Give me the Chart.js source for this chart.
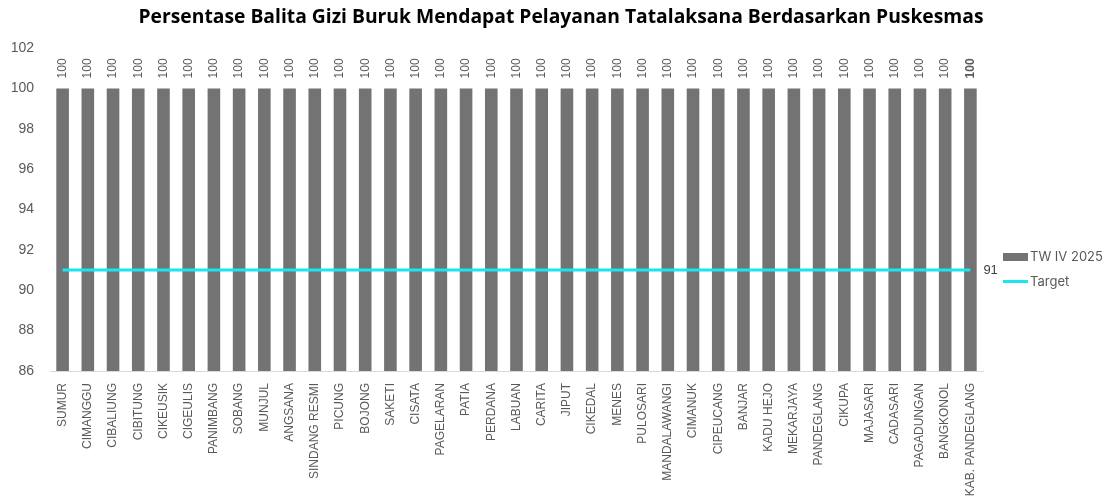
<!DOCTYPE html>
<html>
<head>
<meta charset="utf-8">
<script src="https://cdn.jsdelivr.net/npm/chart.js@4/dist/chart.umd.min.js"></script>
<style>
  html, body { margin: 0; padding: 0; background: #fff; }
  #wrap { width: 1117px; height: 499px; }
</style>
</head>
<body>
<div id="wrap"><canvas id="chart" width="1117" height="499"></canvas></div>
<script>
// data
const puskesmas = ['SUMUR', 'CIMANGGU', 'CIBALIUNG', 'CIBITUNG', 'CIKEUSIK', 'CIGEULIS', 'PANIMBANG',
    'SOBANG', 'MUNJUL', 'ANGSANA', 'SINDANG RESMI', 'PICUNG', 'BOJONG', 'SAKETI', 'CISATA',
    'PAGELARAN', 'PATIA', 'PERDANA', 'LABUAN', 'CARITA', 'JIPUT', 'CIKEDAL', 'MENES', 'PULOSARI',
    'MANDALAWANGI', 'CIMANUK', 'CIPEUCANG', 'BANJAR', 'KADU HEJO', 'MEKARJAYA', 'PANDEGLANG',
    'CIKUPA', 'MAJASARI', 'CADASARI', 'PAGADUNGAN', 'BANGKONOL', 'KAB. PANDEGLANG'];
const capaian = [100, 100, 100, 100, 100, 100, 100, 100, 100, 100, 100, 100, 100, 100, 100,
    100, 100, 100, 100, 100, 100, 100, 100, 100, 100, 100, 100, 100, 100, 100, 100,
    100, 100, 100, 100, 100, 100];
const targetValue = 91;
const target = puskesmas.map(() => targetValue);
const yTicks = [86, 88, 90, 92, 94, 96, 98, 100, 102];
const chartTitle = 'Persentase Balita Gizi Buruk Mendapat Pelayanan Tatalaksana Berdasarkan Puskesmas';

const barColor = '#737373';
const targetColor = '#19E6EE';
const textColor = '#595959';
const tickFont = "'Liberation Sans', Arial, sans-serif";

/*** title centred on the whole canvas ***/
const pageTitle = {
    id: 'pageTitle',
    afterDraw(chart) {
        const ctx = chart.ctx;
        ctx.save();
        ctx.font = "bold 19.3px 'Open Sans', sans-serif";
        ctx.fillStyle = '#000';
        ctx.textAlign = 'center';
        ctx.textBaseline = 'middle';
        ctx.fillText(chartTitle, 561, 18);
        ctx.restore();
    }
};

/*** value labels above bars + "91" at end of target line ***/
const valueLabels = {
    id: 'valueLabels',
    afterDatasetsDraw(chart) {
        const ctx = chart.ctx;
        const bars = chart.getDatasetMeta(0).data;
        ctx.save();
        ctx.fillStyle = textColor;
        ctx.textAlign = 'left';
        ctx.textBaseline = 'middle';
        bars.forEach((bar, i) => {
            const last = i === bars.length - 1;
            ctx.font = (last ? 'bold ' : '') + '12px ' + tickFont;
            ctx.save();
            ctx.translate(bar.x, bar.y - 10);
            ctx.rotate(-Math.PI / 2);
            ctx.fillText(String(capaian[i]), 0, 0);
            ctx.restore();
        });
        const pts = chart.getDatasetMeta(1).data;
        const end = pts[pts.length - 1];
        ctx.font = '13px ' + tickFont;
        ctx.fillStyle = '#404040';
        ctx.fillText(String(targetValue), end.x + 13, end.y);
        ctx.restore();
    }
};

/*** legend on the right side ***/
const sideLegend = {
    id: 'sideLegend',
    afterDraw(chart) {
        const ctx = chart.ctx;
        const x = 1003;
        const ds = chart.data.datasets;
        ctx.save();
        ctx.font = "13px 'Inter', 'Liberation Sans', sans-serif";
        ctx.textBaseline = 'middle';
        ctx.textAlign = 'left';
        ctx.fillStyle = barColor;
        ctx.fillRect(x, 253, 25, 8);
        ctx.fillStyle = '#595959';
        ctx.fillText(ds[0].label, x + 27, 257);
        ctx.strokeStyle = targetColor;
        ctx.lineWidth = 3;
        ctx.beginPath();
        ctx.moveTo(x, 281.5);
        ctx.lineTo(x + 25, 281.5);
        ctx.stroke();
        ctx.fillText(ds[1].label, x + 27, 282);
        ctx.restore();
    }
};

new Chart(document.getElementById('chart').getContext('2d'), {
    data: {
        labels: puskesmas,
        datasets: [
            { type: 'bar', label: 'TW IV 2025', data: capaian, backgroundColor: barColor,
              barPercentage: 0.5, categoryPercentage: 1, order: 1 },
            { type: 'line', label: 'Target', data: target, borderColor: targetColor, backgroundColor: targetColor,
              borderWidth: 3, pointRadius: 0, order: 0 }
        ]
    },
    options: {
        responsive: false,
        animation: false,
        layout: { padding: { left: 6, right: 134, top: 48, bottom: 0 } },
        plugins: {
            legend: { display: false },
            tooltip: { enabled: false },
            title: { display: false }
        },
        scales: {
            x: {
                grid: { display: false },
                border: { display: true, color: '#d9d9d9' },
                ticks: { color: textColor, font: { family: tickFont, size: 12 }, maxRotation: 90, minRotation: 90, autoSkip: false, padding: 4 },
                afterFit: (scale) => { scale.height = 128; }
            },
            y: {
                min: 86, max: 102,
                grid: { display: false },
                border: { display: false },
                afterBuildTicks: (scale) => { scale.ticks = yTicks.map(v => ({ value: v })); },
                ticks: { color: textColor, font: { family: tickFont, size: 14 }, padding: 8 },
                afterFit: (scale) => { scale.width = 44; }
            }
        }
    },
    plugins: [valueLabels, sideLegend, pageTitle]
});
</script>
</body>
</html>
